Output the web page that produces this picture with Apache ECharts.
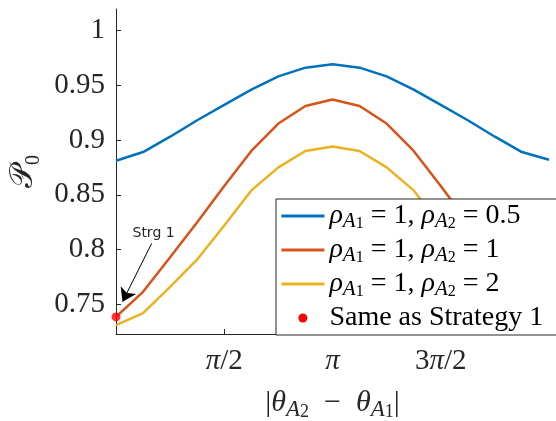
<!DOCTYPE html>
<html><head><meta charset="utf-8">
<script src="https://cdn.jsdelivr.net/npm/echarts@6/dist/echarts.min.js"></script>
<style>html,body{margin:0;padding:0;background:#fff}#c{width:556px;height:421px}</style>
</head><body><div id="c"></div>
<script>
// |theta_A2 - theta_A1| sample points (rad)
const theta = [0, 0.3927, 0.7854, 1.1781, 1.5708, 1.9635, 2.3562, 2.7489, 3.1416,
               3.5343, 3.9270, 4.3197, 4.7124, 5.1051, 5.4978, 5.8905, 6.2832];
// P0 for rho_A1 = 1, rho_A2 = 0.5
const pRho05 = [0.881, 0.889, 0.903, 0.918, 0.932, 0.946, 0.958, 0.966, 0.969,
                0.966, 0.958, 0.946, 0.932, 0.918, 0.903, 0.889, 0.882];
// P0 for rho_A1 = 1, rho_A2 = 1
const pRho1 = [0.7386, 0.7615, 0.793, 0.825, 0.858, 0.890, 0.915, 0.931, 0.937,
               0.931, 0.915, 0.890, 0.858, 0.825, 0.793, 0.7615, 0.7386];
// P0 for rho_A1 = 1, rho_A2 = 2
const pRho2 = [0.731, 0.742, 0.766, 0.791, 0.822, 0.854, 0.875, 0.890, 0.894,
               0.890, 0.875, 0.854, 0.822, 0.791, 0.766, 0.742, 0.731];
// "Same as Strategy 1" point
const strategy1Point = [0, 0.7386];

const seriesNames = ['ρA1 = 1, ρA2 = 0.5', 'ρA1 = 1, ρA2 = 1', 'ρA1 = 1, ρA2 = 2', 'Same as Strategy 1'];
const legendRich = [
  '{i|ρ}{s|A}{ss|1}{n| = 1, }{i|ρ}{s|A}{ss|2}{n| = 0.5}',
  '{i|ρ}{s|A}{ss|1}{n| = 1, }{i|ρ}{s|A}{ss|2}{n| = 1}',
  '{i|ρ}{s|A}{ss|1}{n| = 1, }{i|ρ}{s|A}{ss|2}{n| = 2}',
  '{n|Same as Strategy 1}'
];
const xTickValues = [1.5708, 3.1416, 4.7124];
const xTickLabels = ['π/2', 'π', '3π/2'];
const yTickValues = [0.75, 0.8, 0.85, 0.9, 0.95, 1];
const annotationText = 'Strg 1';
const arrowFrom = [0.518, 0.8057];
const arrowHead = [0.095, 0.7525];
const annotationAt = [0.545, 0.8149];

const colors = ['#0072BD', '#D95319', '#EDB120', '#FF0000'];
const axisColor = '#262626';
const serif = '"Liberation Serif", "Times New Roman", serif';

const chart = echarts.init(document.getElementById('c'), null, {renderer: 'canvas'});
const lineSeries = [pRho05, pRho1, pRho2].map((arr, k) => ({
  type: 'line', name: seriesNames[k],
  data: theta.map((t, i) => [t, arr[i]]),
  symbol: 'none', showSymbol: false,
  lineStyle: {color: colors[k], width: 2.5},
  itemStyle: {color: colors[k]},
  z: 2
}));

chart.setOption({
  animation: false,
  backgroundColor: '#fff',
  grid: {left: 116, right: 7, top: 9, bottom: 87, outerBoundsMode: 'none'},
  xAxis: {
    type: 'value', min: 0, max: 6.2832,
    axisLine: {show: true, lineStyle: {color: axisColor, width: 1}},
    axisTick: {show: true, inside: true, length: 5, customValues: xTickValues, lineStyle: {color: axisColor}},
    splitLine: {show: false},
    axisLabel: {
      customValues: xTickValues, margin: 13, color: axisColor,
      fontFamily: serif, fontSize: 29,
      formatter: function (v) {
        let best = 0;
        xTickValues.forEach((t, i) => { if (Math.abs(t - v) < Math.abs(xTickValues[best] - v)) best = i; });
        return xTickLabels[best].split('').map(ch => ch === 'π' ? '{i|π}' : '{n|' + ch + '}').join('');
      },
      rich: {
        n: {fontFamily: serif, fontSize: 29, color: axisColor},
        i: {fontFamily: serif, fontSize: 29, fontStyle: 'italic', color: axisColor}
      }
    },
    name: '{n|\u007C}{i|θ}{s|A}{ss|2}{n|  −  }{i|θ}{s|A}{ss|1}{n|\u007C}',
    nameLocation: 'middle', nameGap: 52,
    nameTextStyle: {
      color: axisColor, fontFamily: serif, fontSize: 30,
      rich: {
        n: {fontFamily: serif, fontSize: 30, lineHeight: 35, verticalAlign: 'middle', color: axisColor},
        i: {fontFamily: serif, fontSize: 30, lineHeight: 35, fontStyle: 'italic', verticalAlign: 'middle', color: axisColor},
        s: {fontFamily: serif, fontSize: 23, lineHeight: 22, fontStyle: 'italic', verticalAlign: 'bottom', color: axisColor},
        ss: {fontFamily: serif, fontSize: 18, lineHeight: 12, verticalAlign: 'bottom', color: axisColor}
      }
    }
  },
  yAxis: {
    type: 'value', min: 0.723, max: 1.0195,
    axisLine: {show: true, lineStyle: {color: axisColor, width: 1}},
    axisTick: {show: true, inside: true, length: 5, customValues: yTickValues, lineStyle: {color: axisColor}},
    splitLine: {show: false},
    axisLabel: {
      customValues: yTickValues, margin: 11, color: axisColor,
      fontFamily: serif, fontSize: 29,
      formatter: v => String(+v.toFixed(2))
    },
    name: '{c|𝒫}{s|0}',
    nameLocation: 'middle', nameGap: 72, nameRotate: 90,
    nameTextStyle: {
      color: axisColor, fontFamily: serif, fontSize: 32,
      rich: {
        c: {fontFamily: serif, fontSize: 32, lineHeight: 40, verticalAlign: 'middle', color: axisColor},
        s: {fontFamily: serif, fontSize: 20, lineHeight: 20, verticalAlign: 'bottom', color: axisColor}
      }
    }
  },
  legend: {
    orient: 'vertical', left: 276, top: 199,
    padding: [3, 30, 3, 4], itemGap: 4, itemWidth: 43, itemHeight: 9,
    borderColor: axisColor, borderWidth: 1, backgroundColor: '#fff',
    selectedMode: false,
    itemStyle: {opacity: 0},
    lineStyle: {width: 2.8},
    data: [
      {name: seriesNames[0]},
      {name: seriesNames[1]},
      {name: seriesNames[2]},
      {name: seriesNames[3], itemStyle: {opacity: 1}}
    ],
    formatter: name => legendRich[seriesNames.indexOf(name)],
    textStyle: {
      color: '#000', fontFamily: serif, fontSize: 28,
      rich: {
        n: {fontFamily: serif, fontSize: 28, lineHeight: 32, verticalAlign: 'middle', color: '#000'},
        i: {fontFamily: serif, fontSize: 28, lineHeight: 32, fontStyle: 'italic', verticalAlign: 'middle', color: '#000'},
        s: {fontFamily: serif, fontSize: 21, lineHeight: 22, fontStyle: 'italic', verticalAlign: 'bottom', color: '#000'},
        ss: {fontFamily: serif, fontSize: 16, lineHeight: 12, verticalAlign: 'bottom', color: '#000'}
      }
    }
  },
  series: lineSeries.concat([{
    type: 'scatter', name: seriesNames[3],
    data: [strategy1Point],
    symbol: 'circle', symbolSize: 9, clip: false,
    itemStyle: {color: colors[3]},
    z: 5,
    markLine: {
      silent: true, animation: false,
      symbol: ['none', 'arrow'], symbolSize: 13,
      lineStyle: {color: '#000', width: 1, type: 'solid', opacity: 1},
      label: {show: false},
      data: [[{coord: arrowFrom}, {coord: arrowHead}]]
    },
    markPoint: {
      silent: true, animation: false,
      symbol: 'rect', symbolSize: [1, 1],
      itemStyle: {color: 'rgba(0,0,0,0)'},
      label: {show: true, position: 'inside', formatter: annotationText,
              fontFamily: '"DejaVu Sans", sans-serif', fontSize: 14, color: axisColor},
      data: [{coord: annotationAt}]
    }
  }])
});
</script>
</body></html>
